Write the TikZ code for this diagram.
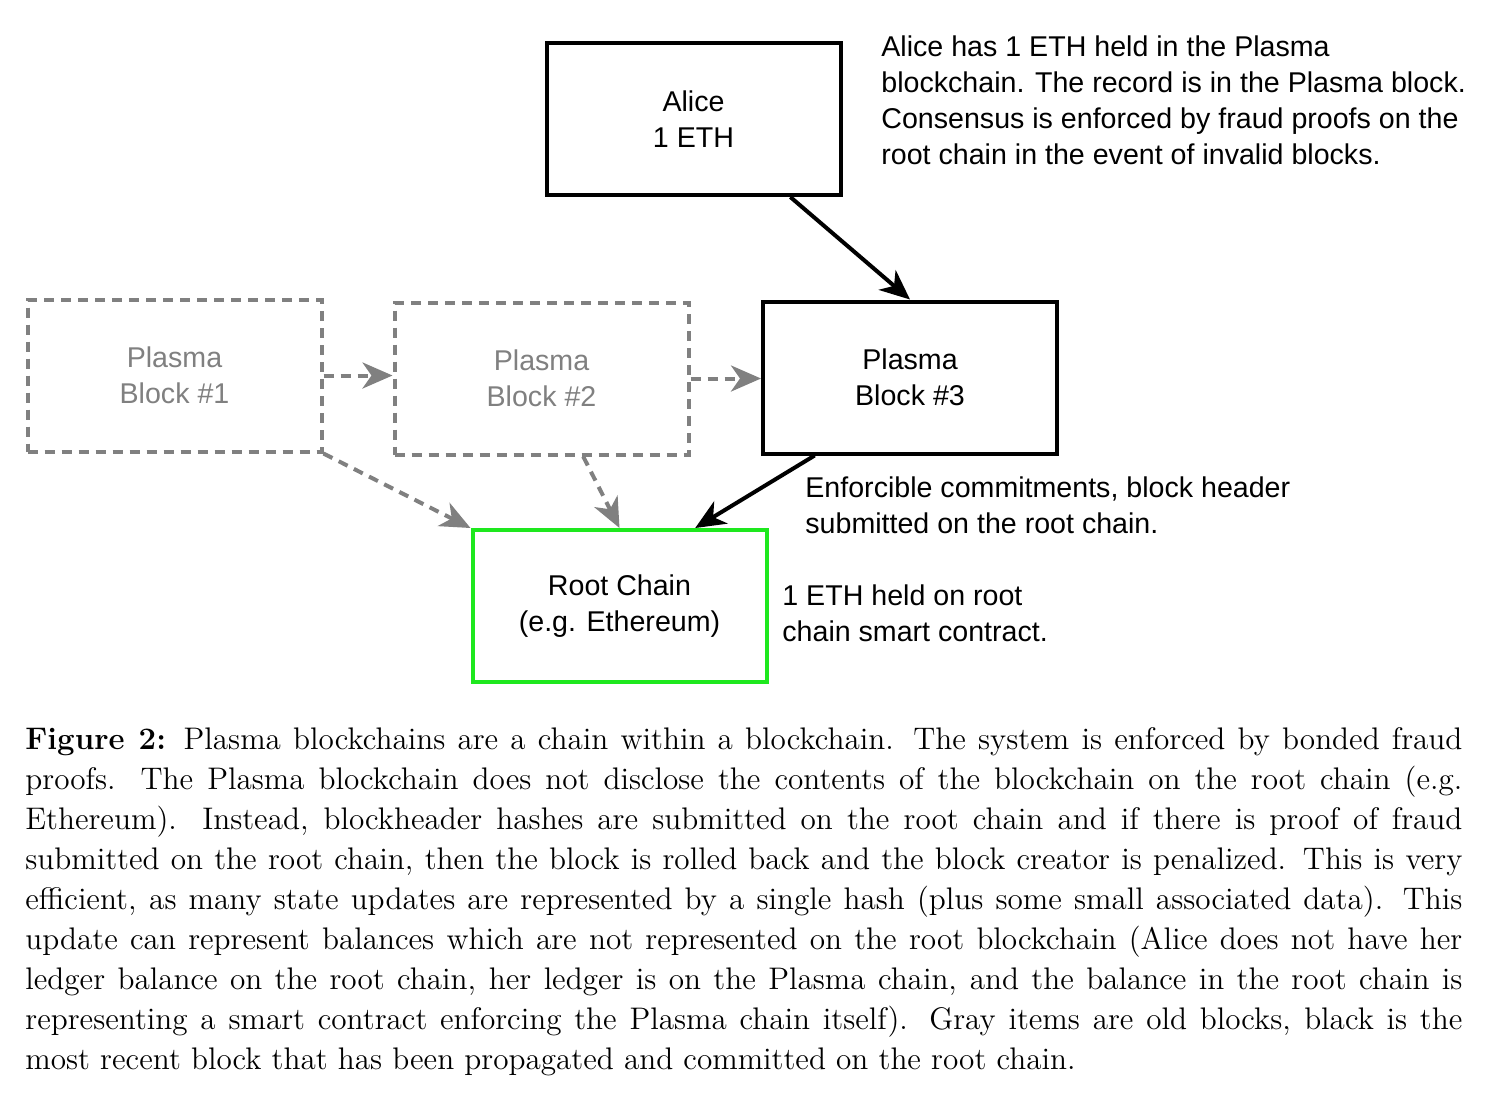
\documentclass[tikz,border=0pt]{standalone}
\usepackage{fontspec}
\newfontfamily\diag{Liberation Sans}
\newfontfamily\capfont[BoldFont=lmroman12-bold.otf]{lmroman12-regular.otf}
\usetikzlibrary{arrows.meta,calc}
\definecolor{oldgray}{RGB}{128,128,128}
\definecolor{rootgreen}{RGB}{30,232,30}
\begin{document}
\begin{tikzpicture}[x=0.5pt,y=-0.5pt,
  box/.style={draw, line width=2pt, minimum width=147pt, minimum height=76pt, inner sep=0pt, align=center, font=\diag\fontsize{14.3}{18}\selectfont},
  oldbox/.style={box, draw=oldgray, text=oldgray, dash pattern=on 5pt off 3.5pt},
  note/.style={anchor=west, align=left, inner sep=0pt, font=\diag\fontsize{14.3}{18}\selectfont},
  conn/.style={line width=2pt, -{Stealth[length=15pt,width=13pt,inset=4.5pt]}},
  oldconn/.style={conn, draw=oldgray, dash pattern=on 5pt off 3.5pt},
]
\fill[white] (0,0) rectangle (1498,1104);
\useasboundingbox (0,0) rectangle (1498,1104);

\node[box] (alice) at (693.5,119) {Alice\\1 ETH};
\node[box] (b3) at (910,377.5) {Plasma\\Block \#3};
\node[oldbox] (b1) at (174.5,375.5) {Plasma\\Block \#1};
\node[oldbox] (b2) at (541.5,378.5) {Plasma\\Block \#2};
\node[box, draw=rootgreen] (root) at (619.5,606) {Root Chain\\(e.g. Ethereum)};

\node[note] (n1) at (881,100) {Alice has 1 ETH held in the Plasma\\blockchain. The record is in the Plasma block.\\Consensus is enforced by fraud proofs on the\\root chain in the event of invalid blocks.};
\node[note] (n2) at (805,505.5) {Enforcible commitments, block header\\submitted on the root chain.};
\node[note] (n3) at (782,613.5) {1 ETH held on root\\chain smart contract.};

\draw[conn] ($(alice.south west)!0.825!(alice.south east)$) -- (b3.north);
\draw[conn] ($(b3.south west)!0.18!(b3.south east)$) -- ($(root.north west)!0.754!(root.north east)$);
\draw[oldconn] (b1.east) -- (b1.east -| b2.west);
\draw[oldconn] (b2.east) -- (b2.east -| b3.west);
\draw[oldconn] (b1.south east) -- (root.north west);
\draw[oldconn] ($(b2.south west)!0.64!(b2.south east)$) -- (root.north);

\node[anchor=north west, inner sep=0pt, text width=718.5pt, align=justify, font=\capfont\fontsize{15.6}{20}\selectfont] (cap) at (25,727) {\textbf{Figure 2:} Plasma blockchains are a chain within a blockchain. The system is enforced by bonded fraud\linebreak
proofs. The Plasma blockchain does not disclose the contents of the blockchain on the root chain (e.g.\linebreak
Ethereum). Instead, blockheader hashes are submitted on the root chain and if there is proof of fraud\linebreak
submitted on the root chain, then the block is rolled back and the block creator is penalized. This is very\linebreak
efficient, as many state updates are represented by a single hash (plus some small associated data). This\linebreak
update can represent balances which are not represented on the root blockchain (Alice does not have her\linebreak
ledger balance on the root chain, her ledger is on the Plasma chain, and the balance in the root chain is\linebreak
representing a smart contract enforcing the Plasma chain itself). Gray items are old blocks, black is the\linebreak
most recent block that has been propagated and committed on the root chain.};
\end{tikzpicture}
\end{document}
